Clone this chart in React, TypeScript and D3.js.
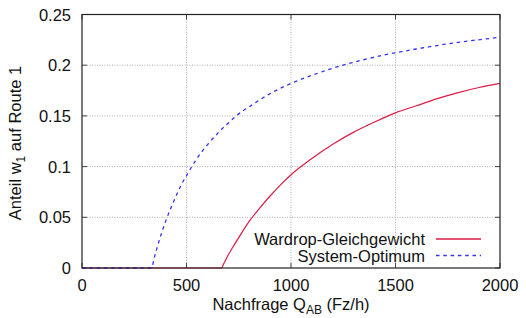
import React, { useEffect, useRef } from 'react';
import * as d3 from 'd3';

// values (demand Q in Fz/h, share w1)
const wardropQ = [0, 667, 680, 700, 720, 750, 800, 850, 900, 950, 1000, 1100, 1200, 1300, 1400, 1500, 1600, 1700, 1800, 1900, 2000];
const wardropW = [0, 0, 0.005, 0.013, 0.020, 0.030, 0.046, 0.059, 0.071, 0.082, 0.092, 0.108, 0.122, 0.134, 0.144, 0.153, 0.160, 0.167, 0.173, 0.178, 0.182];
const optimumQ = [0, 333, 345, 360, 380, 400, 425, 450, 475, 500, 550, 600, 650, 700, 750, 800, 900, 1000, 1100, 1200, 1400, 1600, 1800, 2000];
const optimumW = [0, 0, 0.0095, 0.0205, 0.034, 0.046, 0.059, 0.071, 0.082, 0.091, 0.108, 0.1215, 0.133, 0.143, 0.152, 0.159, 0.172, 0.182, 0.190, 0.197, 0.208, 0.216, 0.2225, 0.2275];

const xTicks = [0, 500, 1000, 1500, 2000];
const yTicks = [0, 0.05, 0.1, 0.15, 0.2, 0.25];
const seriesNames = ['Wardrop-Gleichgewicht', 'System-Optimum'];

const App = () => {
  const svgRef = useRef<SVGSVGElement>(null);

  useEffect(() => {
    const width = 526, height = 318;
    const margin = { top: 14.5, right: 26, bottom: 50, left: 82 };
    const font = '"Liberation Sans", Arial, sans-serif';
    const red = '#dc1c44', blue = '#3232ff';

    const svg = d3.select(svgRef.current);
    svg.selectAll('*').remove();
    svg.attr('width', width).attr('height', height);

    const x = d3.scaleLinear().domain([0, 2000]).range([margin.left, width - margin.right]);
    const y = d3.scaleLinear().domain([0, 0.25]).range([height - margin.bottom, margin.top]);

    // grid
    const grid = svg.append('g').attr('stroke', '#b0b0b0').attr('stroke-width', 1).attr('stroke-dasharray', '1,1.5');
    xTicks.slice(1, -1).forEach(t => {
      grid.append('line').attr('x1', x(t)).attr('x2', x(t)).attr('y1', y(0)).attr('y2', y(0.25));
    });
    yTicks.slice(1, -1).forEach(t => {
      grid.append('line').attr('x1', x(0)).attr('x2', x(2000)).attr('y1', y(t)).attr('y2', y(t));
    });

    // inward ticks on all sides
    const tl = 5;
    const ticks = svg.append('g').attr('stroke', '#444').attr('stroke-width', 1);
    xTicks.forEach(t => {
      ticks.append('line').attr('x1', x(t)).attr('x2', x(t)).attr('y1', y(0)).attr('y2', y(0) - tl);
      ticks.append('line').attr('x1', x(t)).attr('x2', x(t)).attr('y1', y(0.25)).attr('y2', y(0.25) + tl);
    });
    yTicks.forEach(t => {
      ticks.append('line').attr('x1', x(0)).attr('x2', x(0) + tl).attr('y1', y(t)).attr('y2', y(t));
      ticks.append('line').attr('x1', x(2000)).attr('x2', x(2000) - tl).attr('y1', y(t)).attr('y2', y(t));
    });

    const line = d3.line<[number, number]>()
      .x(d => x(d[0]))
      .y(d => y(d[1]))
      .curve(d3.curveMonotoneX);

    const wardrop = wardropQ.map((q, i) => [q, wardropW[i]] as [number, number]);
    const optimum = optimumQ.map((q, i) => [q, optimumW[i]] as [number, number]);

    svg.append('path').attr('d', line(wardrop)).attr('fill', 'none')
      .attr('stroke', red).attr('stroke-width', 1.2);
    svg.append('path').attr('d', line(optimum)).attr('fill', 'none')
      .attr('stroke', blue).attr('stroke-width', 1.3).attr('stroke-dasharray', '3.5,3.8');

    // frame
    svg.append('rect')
      .attr('x', x(0)).attr('y', y(0.25))
      .attr('width', x(2000) - x(0)).attr('height', y(0) - y(0.25))
      .attr('fill', 'none').attr('stroke', '#222').attr('stroke-width', 1.2);

    // tick labels
    const labels = svg.append('g').attr('font-family', font).attr('font-size', 16.5).attr('fill', '#111');
    xTicks.forEach(t => {
      labels.append('text').attr('x', x(t)).attr('y', y(0) + 22.5).attr('text-anchor', 'middle').text(String(t));
    });
    yTicks.forEach(t => {
      labels.append('text').attr('x', x(0) - 11).attr('y', y(t) + 6).attr('text-anchor', 'end').text(String(t));
    });

    // axis titles
    const xt = labels.append('text').attr('x', 291).attr('y', 310).attr('text-anchor', 'middle');
    xt.append('tspan').text('Nachfrage Q');
    xt.append('tspan').attr('font-size', 12).attr('dy', 4).text('AB');
    xt.append('tspan').attr('dy', -4).text(' (Fz/h)');

    const yt = labels.append('text').attr('transform', 'translate(21,143) rotate(-90)').attr('text-anchor', 'middle');
    yt.append('tspan').text('Anteil w');
    yt.append('tspan').attr('font-size', 12).attr('dy', 4).text('1');
    yt.append('tspan').attr('dy', -4).text(' auf Route 1');

    // legend
    const legend = svg.append('g').attr('font-family', font).attr('font-size', 16.5).attr('fill', '#111');
    const rows = [
      { name: seriesNames[0], color: red, dash: null, yy: 239 },
      { name: seriesNames[1], color: blue, dash: '3.5,3.8', yy: 255.5 },
    ];
    rows.forEach(r => {
      legend.append('text').attr('x', 425).attr('y', r.yy + 6).attr('text-anchor', 'end').text(r.name);
      legend.append('line').attr('x1', 436).attr('x2', 481).attr('y1', r.yy).attr('y2', r.yy)
        .attr('stroke', r.color).attr('stroke-width', 1.3).attr('stroke-dasharray', r.dash);
    });
  }, []);

  return <svg ref={svgRef} style={{ position: 'absolute', left: 0, top: 0 }}></svg>;
};

export default App;
